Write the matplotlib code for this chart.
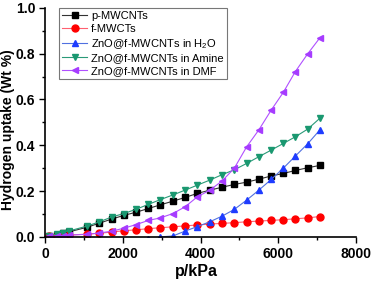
import matplotlib
matplotlib.use("Agg")
import matplotlib.pyplot as plt
from matplotlib.ticker import MultipleLocator

plt.rcParams['font.family'] = ['Liberation Sans', 'DejaVu Sans']
plt.rcParams['mathtext.default'] = 'regular'

# pressure points (kPa)
p = [100, 300, 450, 620, 1080, 1400, 1720, 2030, 2350, 2660, 2970, 3290,
     3600, 3920, 4240, 4560, 4870, 5190, 5500, 5820, 6130, 6440, 6760, 7070]

p_mwcnt = [0.004, 0.009, 0.015, 0.022, 0.042, 0.06, 0.078, 0.094, 0.108, 0.124,
           0.14, 0.156, 0.172, 0.19, 0.204, 0.217, 0.229, 0.239, 0.252, 0.266,
           0.277, 0.29, 0.302, 0.312]
f_mwct = [0.002, 0.004, 0.006, 0.008, 0.012, 0.016, 0.021, 0.027, 0.031, 0.036,
          0.04, 0.044, 0.048, 0.052, 0.056, 0.059, 0.062, 0.066, 0.069, 0.072,
          0.075, 0.079, 0.083, 0.089]
amine = [0.005, 0.012, 0.019, 0.026, 0.047, 0.066, 0.087, 0.102, 0.121, 0.142,
         0.163, 0.183, 0.204, 0.226, 0.248, 0.272, 0.293, 0.321, 0.35, 0.379,
         0.408, 0.437, 0.471, 0.518]
dmf = [0.002, 0.004, 0.006, 0.008, 0.011, 0.017, 0.025, 0.038, 0.054, 0.072,
       0.083, 0.102, 0.131, 0.175, 0.204, 0.245, 0.3, 0.394, 0.467, 0.554,
       0.631, 0.722, 0.8, 0.869]
p_h2o = p[9:]
h2o = [-0.008, 0.0, 0.004, 0.025, 0.045, 0.066, 0.091, 0.12, 0.161, 0.204,
       0.251, 0.3, 0.353, 0.407, 0.467]

fig = plt.figure(figsize=(3.72, 2.81), dpi=100)
ax = fig.add_axes([0.121, 0.157, 0.836, 0.815])

ax.plot(p, p_mwcnt, color='#333333', lw=0.8, marker='s', ms=4.5,
        mfc='black', mec='black', label='p-MWCNTs')
ax.plot(p, f_mwct, color='#ff6070', lw=0.8, marker='o', ms=5,
        mfc='#ff0000', mec='#ff0000', label='f-MWCTs')
ax.plot(p_h2o, h2o, color='#5070e0', lw=0.8, marker='^', ms=5,
        mfc='#1e3cff', mec='#1e3cff', label='ZnO@f-MWCNTs in H$_2$O')
ax.plot(p, amine, color='#2a9a78', lw=0.8, marker='v', ms=5,
        mfc='#1a9870', mec='#1a9870', label='ZnO@f-MWCNTs in Amine')
ax.plot(p, dmf, color='#b050ff', lw=0.8, marker='<', ms=5,
        mfc='#a63cff', mec='#a63cff', label='ZnO@f-MWCNTs in DMF')

ax.set_xlim(0, 8000)
ax.set_ylim(0, 1.0)
ax.xaxis.set_major_locator(MultipleLocator(2000))
ax.xaxis.set_minor_locator(MultipleLocator(1000))
ax.yaxis.set_major_locator(MultipleLocator(0.2))
ax.yaxis.set_minor_locator(MultipleLocator(0.1))
ax.tick_params(which='both', direction='out', width=1)
ax.tick_params(which='major', length=4, pad=3)
ax.tick_params(which='minor', length=2.5)
for lbl in ax.get_xticklabels() + ax.get_yticklabels():
    lbl.set_fontweight('bold')
    lbl.set_fontsize(10)
ax.spines['top'].set_visible(False)
ax.spines['right'].set_visible(False)
ax.spines['left'].set_linewidth(1.2)
ax.spines['bottom'].set_linewidth(1.2)

ax.set_xlabel('p/kPa', fontsize=11.5, fontweight='bold')
ax.set_ylabel('Hydrogen uptake (Wt %)', fontsize=10, fontweight='bold')
ax.xaxis.set_label_coords(0.486, -0.118)
ax.yaxis.set_label_coords(-0.097, 0.467)

leg = ax.legend(loc='upper left', bbox_to_anchor=(0.045, 1.0), fontsize=8,
                frameon=True, fancybox=False, edgecolor='#555555',
                handlelength=2.2, borderpad=0.3, labelspacing=0.25,
                handletextpad=0.4, borderaxespad=0.0)
leg.get_frame().set_linewidth(0.8)

fig.savefig('out.png', dpi=100)
